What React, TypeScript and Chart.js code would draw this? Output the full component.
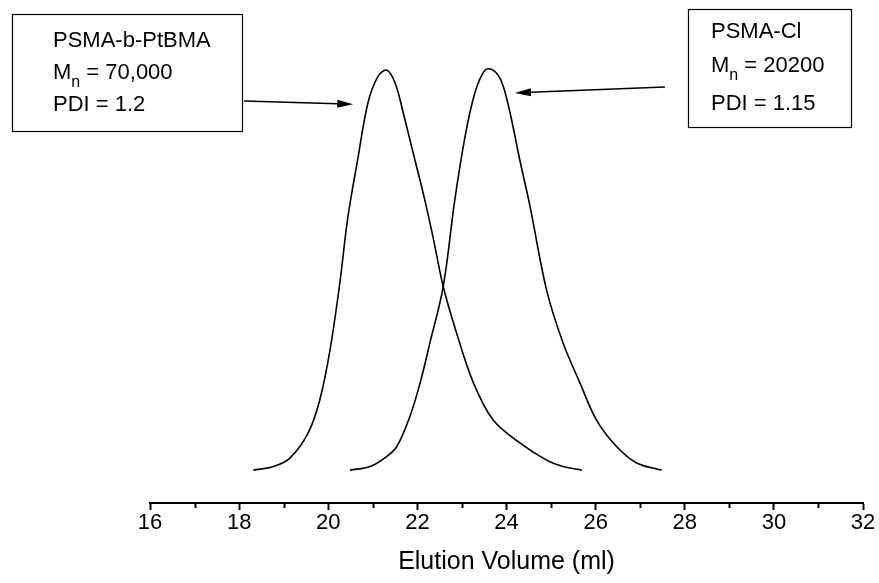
import React, { useEffect, useRef } from "react";
import { Chart, registerables } from "chart.js";

Chart.register(...registerables);

// Block copolymer trace (PSMA-b-PtBMA)
const volumeBlock = [18.32, 18.77, 19.14, 19.55, 19.81, 20.04, 20.26, 20.44, 20.67, 20.89, 21.11, 21.31, 21.50, 21.68, 21.87, 22.13, 22.35, 22.58, 22.88, 23.26, 23.70, 24.30, 24.90, 25.27, 25.69];
const signalBlock = [0.2, 1.1, 3.2, 9.5, 17.7, 30.2, 46.9, 63.3, 78.3, 91.8, 98.3, 100, 96.8, 89.5, 80.9, 69.3, 58.4, 46.0, 34.4, 21.9, 12.7, 7.0, 2.7, 1.1, 0.2];

// Macroinitiator trace (PSMA-Cl)
const volumeMacro = [20.49, 20.94, 21.31, 21.54, 21.83, 22.06, 22.28, 22.58, 22.84, 23.07, 23.29, 23.52, 23.70, 23.89, 24.08, 24.30, 24.53, 24.90, 25.27, 25.65, 26.02, 26.47, 26.92, 27.48];
const signalMacro = [0.2, 1.1, 3.6, 6.1, 13.5, 21.9, 31.9, 46.0, 67.6, 83.4, 94.3, 100, 100, 97.1, 89.3, 77.5, 65.9, 45.1, 31.9, 21.9, 12.7, 6.1, 2.0, 0.2];

const majorTicks = [16, 18, 20, 22, 24, 26, 28, 30, 32];
const minorTicks = [17, 19, 21, 23, 25, 27, 29, 31];

const axisTitle = "Elution Volume (ml)";

const labelBlock = { name: "PSMA-b-PtBMA", mn: "70,000", pdi: "1.2" };
const labelMacro = { name: "PSMA-Cl", mn: "20200", pdi: "1.15" };

// Arrow tips, in data units (elution volume, signal)
const arrowTipBlock = { x: 20.56, y: 91.5 };
const arrowTipMacro = { x: 24.19, y: 94.3 };

const FONT = '"Liberation Sans", Arial, Helvetica, sans-serif';

function drawArrow(ctx: CanvasRenderingContext2D, x0: number, y0: number, x1: number, y1: number) {
  const ang = Math.atan2(y1 - y0, x1 - x0);
  const head = 16;
  const half = 4;
  const bx = x1 - head * Math.cos(ang);
  const by = y1 - head * Math.sin(ang);
  ctx.beginPath();
  ctx.moveTo(x0, y0);
  ctx.lineTo(bx, by);
  ctx.lineWidth = 1.6;
  ctx.stroke();
  ctx.beginPath();
  ctx.moveTo(x1, y1);
  ctx.lineTo(bx - half * Math.sin(ang), by + half * Math.cos(ang));
  ctx.lineTo(bx + half * Math.sin(ang), by - half * Math.cos(ang));
  ctx.closePath();
  ctx.fill();
}

function drawLabel(
  ctx: CanvasRenderingContext2D,
  info: { name: string; mn: string; pdi: string },
  tx: number,
  rows: number[]
) {
  ctx.font = `22px ${FONT}`;
  ctx.textBaseline = "middle";
  ctx.textAlign = "left";
  ctx.fillText(info.name, tx, rows[0]);
  ctx.fillText("M", tx, rows[1]);
  const mw = ctx.measureText("M").width;
  ctx.font = `16px ${FONT}`;
  ctx.fillText("n", tx + mw, rows[1] + 10);
  const nw = ctx.measureText("n").width;
  ctx.font = `22px ${FONT}`;
  ctx.fillText(" = " + info.mn, tx + mw + nw, rows[1]);
  ctx.fillText("PDI = " + info.pdi, tx, rows[2]);
}

const annotations = {
  id: "annotations",
  afterDraw(chart: any) {
    const ctx: CanvasRenderingContext2D = chart.ctx;
    const xs = chart.scales.x;
    const ys = chart.scales.y;
    ctx.save();
    ctx.strokeStyle = "#000";
    ctx.fillStyle = "#000";

    // minor ticks
    const bottom = chart.chartArea.bottom;
    ctx.lineWidth = 2;
    for (const v of minorTicks) {
      const px = Math.round(xs.getPixelForValue(v)) + 0.5;
      ctx.beginPath();
      ctx.moveTo(px, bottom);
      ctx.lineTo(px, bottom + 5);
      ctx.stroke();
    }

    // label boxes
    ctx.lineWidth = 1.2;
    ctx.strokeRect(12.5, 14.5, 230, 117);
    ctx.strokeRect(688.5, 9.5, 163, 118);
    drawLabel(ctx, labelBlock, 53, [41, 73, 105]);
    drawLabel(ctx, labelMacro, 711, [32, 66, 104]);

    // arrows from boxes to peaks
    drawArrow(ctx, 244, 101, xs.getPixelForValue(arrowTipBlock.x), ys.getPixelForValue(arrowTipBlock.y));
    drawArrow(ctx, 665, 87, xs.getPixelForValue(arrowTipMacro.x), ys.getPixelForValue(arrowTipMacro.y));
    ctx.restore();
  },
};

export default function App() {
  const ref = useRef<HTMLCanvasElement | null>(null);

  useEffect(() => {
    if (!ref.current) return;
    const toPoints = (xs: number[], ys: number[]) => xs.map((x, i) => ({ x, y: ys[i] }));
    const line = {
      showLine: true,
      borderColor: "#000",
      borderWidth: 1.6,
      pointRadius: 0,
      tension: 0.35,
    };
    const chart = new Chart(ref.current, {
      type: "scatter",
      data: {
        datasets: [
          { ...line, data: toPoints(volumeBlock, signalBlock) },
          { ...line, data: toPoints(volumeMacro, signalMacro) },
        ],
      },
      options: {
        animation: false,
        responsive: false,
        layout: { padding: { left: 150, right: 16, top: 20, bottom: 0 } },
        plugins: { legend: { display: false }, tooltip: { enabled: false } },
        scales: {
          x: {
            type: "linear",
            min: 16,
            max: 32,
            afterBuildTicks: (scale: any) => {
              scale.ticks = majorTicks.map((v) => ({ value: v }));
            },
            afterFit: (scale: any) => {
              scale.height = 80;
              scale.paddingLeft = 0;
              scale.paddingRight = 0;
            },
            grid: {
              drawOnChartArea: false,
              drawTicks: true,
              tickLength: 7,
              tickWidth: 2,
              tickColor: "#000",
            },
            border: { display: true, color: "#000", width: 2 },
            ticks: {
              color: "#000",
              padding: 0,
              maxRotation: 0,
              font: { family: FONT, size: 22 },
            },
            title: {
              display: true,
              text: axisTitle,
              color: "#000",
              font: { family: FONT, size: 25 },
              padding: { top: 2, bottom: 6 },
            },
          },
          y: {
            display: false,
            min: -8,
            max: 112.5,
          },
        },
      },
      plugins: [annotations],
    });
    return () => chart.destroy();
  }, []);

  return (
    <div style={{ position: "fixed", left: 0, top: 0, width: 879, height: 583, background: "#fff" }}>
      <canvas ref={ref} width={879} height={583} style={{ width: 879, height: 583 }} />
    </div>
  );
}
